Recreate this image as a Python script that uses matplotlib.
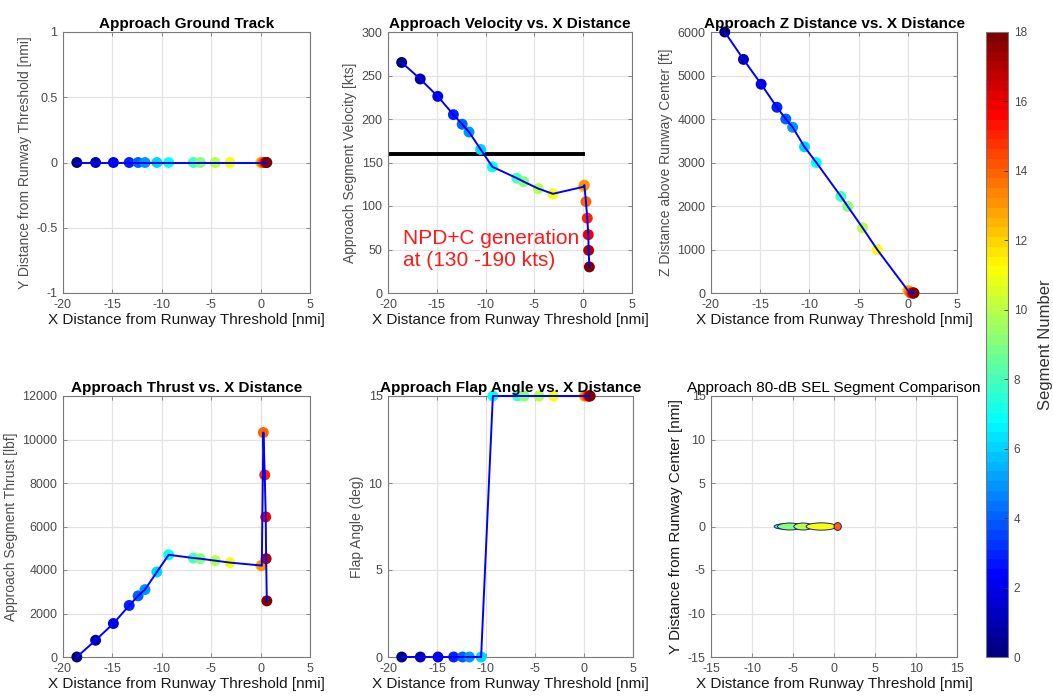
import numpy as np
import matplotlib
matplotlib.use('Agg')
import matplotlib.pyplot as plt
from matplotlib.colors import Normalize, LinearSegmentedColormap
from matplotlib.patches import Ellipse
from matplotlib.ticker import FuncFormatter

plt.rcParams['font.family'] = ['Liberation Sans', 'DejaVu Sans']
plt.rcParams['axes.unicode_minus'] = False

# ---- approach profile, one entry per segment (0..18) ----
segment = list(range(19))
x_nmi = [-18.6, -16.7, -14.9, -13.3, -12.4, -11.7, -10.5, -9.3, -6.8, -6.1,
         -4.6, -3.1, 0.0, 0.12, 0.28, 0.42, 0.52, 0.56, 0.63]
y_nmi = [0.0] * 19
velocity_kts = [265, 246, 226, 205, 194, 185, 165, 145, 132, 128,
                120, 114, 122, 124, 105, 86, 67, 49, 30]
z_ft = [6000, 5370, 4800, 4270, 4000, 3810, 3360, 3000, 2220, 1990,
        1500, 995, 60, 40, 0, 0, 0, 0, 0]
thrust_lbf = [0, 770, 1540, 2370, 2810, 3100, 3910, 4700, 4550, 4520,
              4430, 4340, 4210, 4200, 10320, 8370, 6440, 4520, 2580]
flap_deg = [0, 0, 0, 0, 0, 0, 0, 15, 15, 15, 15, 15, 15, 15, 15, 15, 15, 15, 15]

# NPD+C reference speed line
npd_ref_kts = 160
npd_ref_x = [-20, 0]

# 80-dB SEL footprints per segment: start x, end x, half width [nmi]
sel_segment = [7, 9, 10, 11, 14]
sel_x_start = [-7.3, -6.9, -4.9, -3.4, 0.0]
sel_x_end = [-5.0, -3.9, -2.6, 0.3, 0.9]
sel_half_width = [0.3, 0.4, 0.4, 0.42, 0.45]

# classic 64-level jet colour table
jet_segments = {
    'red':   [(0.0, 0.0, 0.0), (0.375, 0.0, 0.0), (0.625, 1.0, 1.0),
              (0.875, 1.0, 1.0), (1.0, 0.5, 0.5)],
    'green': [(0.0, 0.0, 0.0), (0.125, 0.0, 0.0), (0.375, 1.0, 1.0),
              (0.625, 1.0, 1.0), (0.875, 0.0, 0.0), (1.0, 0.0, 0.0)],
    'blue':  [(0.0, 0.5, 0.5), (0.125, 1.0, 1.0), (0.375, 1.0, 1.0),
              (0.625, 0.0, 0.0), (1.0, 0.0, 0.0)],
}
cmap = LinearSegmentedColormap('jet64', jet_segments, N=64)
norm = Normalize(vmin=0, vmax=18)

fig = plt.figure(figsize=(10.53, 7.0), dpi=100)

W, H = 1053.0, 700.0
def rect(l, t, r, b):
    return [l / W, 1 - b / H, (r - l) / W, (b - t) / H]

axes_px = [
    (63, 32, 310, 293),
    (388, 32, 632, 293),
    (711, 32, 957, 293),
    (63, 396, 310, 657),
    (388, 396, 633, 657),
    (711, 396, 957, 657),
]
axs = [fig.add_axes(rect(*p)) for p in axes_px]

tick_col = '#4a4a4a'
spine_col = '#7a7a7a'
fmt = FuncFormatter(lambda v, p: '%g' % v)

def style(ax, xlim, xticks, ylim, yticks, title, ylabel, bold=True,
          ylab_size=10, ylab_col='#505050'):
    ax.set_xlim(*xlim)
    ax.set_ylim(*ylim)
    ax.set_xticks(xticks)
    ax.set_yticks(yticks)
    ax.xaxis.set_major_formatter(fmt)
    ax.yaxis.set_major_formatter(fmt)
    ax.grid(True, color='#e3e3e3', lw=0.9)
    ax.set_axisbelow(True)
    for s in ax.spines.values():
        s.set_color(spine_col)
        s.set_linewidth(0.8)
    ax.tick_params(direction='in', length=3, width=0.6, color=spine_col,
                   labelsize=9, labelcolor=tick_col, top=True, right=True,
                   labeltop=False, labelright=False, pad=4)
    ax.set_title(title, fontsize=11, fontweight='bold' if bold else 'normal',
                 pad=3, color='black')
    ax.set_xlabel('X Distance from Runway Threshold [nmi]', fontsize=11,
                  color='#1a1a1a', labelpad=2)
    ax.set_ylabel(ylabel, fontsize=ylab_size, color=ylab_col, labelpad=3)

def profile(ax, yvals):
    ax.scatter(x_nmi, yvals, c=segment, cmap=cmap, norm=norm, s=62,
               linewidths=0, zorder=3, clip_on=False)
    ax.plot(x_nmi, yvals, color='#0000ff', lw=1.4, zorder=4, clip_on=False)

xt = [-20, -15, -10, -5, 0, 5]

ax = axs[0]
profile(ax, y_nmi)
style(ax, (-20, 5), xt, (-1, 1), [-1, -0.5, 0, 0.5, 1],
      'Approach Ground Track', 'Y Distance from Runway Threshold [nmi]')

ax = axs[1]
ax.plot(npd_ref_x, [npd_ref_kts, npd_ref_kts], color='black', lw=2.8, zorder=2)
profile(ax, velocity_kts)
ax.text(-18.5, 50, 'NPD+C generation\nat (130 -190 kts)', color='#ff1a1a',
        fontsize=15, ha='left', va='center', linespacing=1.2, zorder=5)
style(ax, (-20, 5), xt, (0, 300), list(range(0, 301, 50)),
      'Approach Velocity vs. X Distance', 'Approach Segment Velocity [kts]')

ax = axs[2]
profile(ax, z_ft)
style(ax, (-20, 5), xt, (0, 6000), list(range(0, 6001, 1000)),
      'Approach Z Distance vs. X Distance', 'Z Distance above Runway Center [ft]')

ax = axs[3]
profile(ax, thrust_lbf)
style(ax, (-20, 5), xt, (0, 12000), list(range(0, 12001, 2000)),
      'Approach Thrust vs. X Distance', 'Approach Segment Thrust [lbf]')

ax = axs[4]
profile(ax, flap_deg)
style(ax, (-20, 5), xt, (0, 15), [0, 5, 10, 15],
      'Approach Flap Angle vs. X Distance', 'Flap Angle (deg)')

ax = axs[5]
for seg, x0, x1, hw in zip(sel_segment, sel_x_start, sel_x_end, sel_half_width):
    ax.add_patch(Ellipse(((x0 + x1) / 2, 0), x1 - x0, 2 * hw,
                         facecolor=cmap(norm(seg)), edgecolor='#20207a',
                         lw=0.7, zorder=3))
style(ax, (-15, 15), list(range(-15, 16, 5)), (-15, 15), list(range(-15, 16, 5)),
      'Approach 80-dB SEL Segment Comparison',
      'Y Distance from Runway Center [nmi]', bold=False,
      ylab_size=11, ylab_col='#1a1a1a')

# colour bar for segment number
cax = fig.add_axes(rect(986, 32, 1008, 657))
sm = plt.cm.ScalarMappable(cmap=cmap, norm=norm)
cb = fig.colorbar(sm, cax=cax, ticks=list(range(0, 19, 2)))
cb.outline.set_edgecolor(spine_col)
cb.outline.set_linewidth(0.8)
cax.tick_params(direction='in', length=3, width=0.6, color='#333333',
                labelsize=8.5, labelcolor=tick_col, pad=4)
cb.set_label('Segment Number', fontsize=12, color='#333333', labelpad=8)

fig.savefig('out.png', dpi=100)
